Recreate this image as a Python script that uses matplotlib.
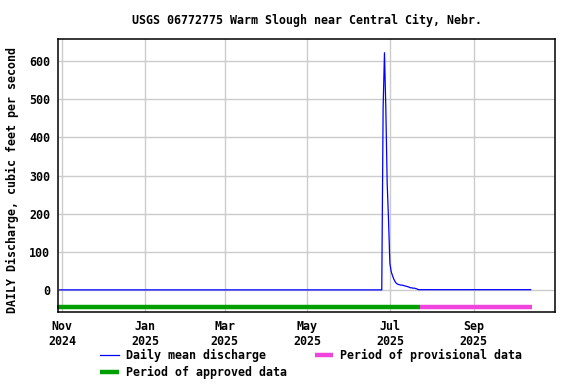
import matplotlib
matplotlib.use("Agg")
import matplotlib.pyplot as plt
import matplotlib.dates as mdates
import numpy as np
from datetime import datetime

# discharge, cfs (flat stretches given by their end points)
q_dates = ["2024-10-30", "2025-06-25", "2025-06-26", "2025-06-27", "2025-06-28",
           "2025-06-29", "2025-06-30", "2025-07-01", "2025-07-02", "2025-07-03",
           "2025-07-04", "2025-07-05", "2025-07-06", "2025-07-07", "2025-07-08",
           "2025-07-09", "2025-07-10", "2025-07-11", "2025-07-12", "2025-07-13",
           "2025-07-14", "2025-07-15", "2025-07-16", "2025-07-17", "2025-07-18",
           "2025-07-19", "2025-07-20", "2025-07-21", "2025-07-22", "2025-10-13"]
q_vals = [0.5, 0.5, 477, 622, 476,
          280, 183, 70, 48, 37,
          28, 21, 17, 15, 14,
          13, 13, 12, 11, 10,
          9, 8, 6, 6, 5,
          5, 4, 3, 1, 1]

approved = ["2024-10-28", "2025-07-23"]
provisional = ["2025-07-23", "2025-10-14"]
bar_level = -44

xticks = ["2024-11-01", "2025-01-01", "2025-03-01", "2025-05-01", "2025-07-01", "2025-09-01"]
xticklabels = ["Nov\n2024", "Jan\n2025", "Mar\n2025", "May\n2025", "Jul\n2025", "Sep\n2025"]
yticks = [0, 100, 200, 300, 400, 500, 600]

def d(s):
    return datetime.strptime(s, "%Y-%m-%d")

plt.rcParams['font.family'] = 'DejaVu Sans Mono'
plt.rcParams['font.weight'] = 'bold'
fs = 8.4

fig = plt.figure(figsize=(5.76, 3.84), dpi=100)
ax = fig.add_axes([58.3/576, 1-312/384, (555-58.3)/576, (312-39)/384])

ln_q, = ax.plot([d(s) for s in q_dates], q_vals, color='#0000ff', lw=0.9,
                label='Daily mean discharge')
ln_a, = ax.plot([d(s) for s in approved], [bar_level]*2, color='#009f00', lw=3.2,
                solid_capstyle='butt', label='Period of approved data', clip_on=False)
ln_p, = ax.plot([d(s) for s in provisional], [bar_level]*2, color='#f045dc', lw=3.2,
                solid_capstyle='butt', label='Period of provisional data')

ax.set_xlim(d("2024-10-29"), d("2025-10-31"))
ax.set_ylim(-57.5, 658)
ax.set_xticks([d(s) for s in xticks])
ax.set_xticklabels(xticklabels, fontsize=fs, fontweight='bold')
ax.set_yticks(yticks)
ax.set_yticklabels([str(v) for v in yticks], fontsize=fs, fontweight='bold')
ax.tick_params(length=0, pad=6)
ax.tick_params(axis='x', pad=6)
ax.grid(True, color='#cccccc', lw=1)
ax.set_axisbelow(True)
for sp in ax.spines.values():
    sp.set_linewidth(1.1)
    sp.set_color('black')

fig.text(0.5*(58.3+555)/576, 1-20/384, "USGS 06772775 Warm Slough near Central City, Nebr.",
         ha='center', va='center', fontsize=fs, fontweight='bold')
fig.text(12/576, 1-180/384, "DAILY Discharge, cubic feet per second", rotation=90,
         ha='center', va='center', fontsize=fs, fontweight='bold')

fig.legend(handles=[ln_q, ln_a, ln_p], ncol=2, loc='upper left',
           bbox_to_anchor=(100/576, 1-349/384), frameon=False, borderpad=0,
           borderaxespad=0, handlelength=1.6, handletextpad=0.6, columnspacing=2.4,
           labelspacing=0.32, prop={'size': fs, 'weight': 'bold', 'family': 'DejaVu Sans Mono'})

fig.savefig("out.png", dpi=100)
